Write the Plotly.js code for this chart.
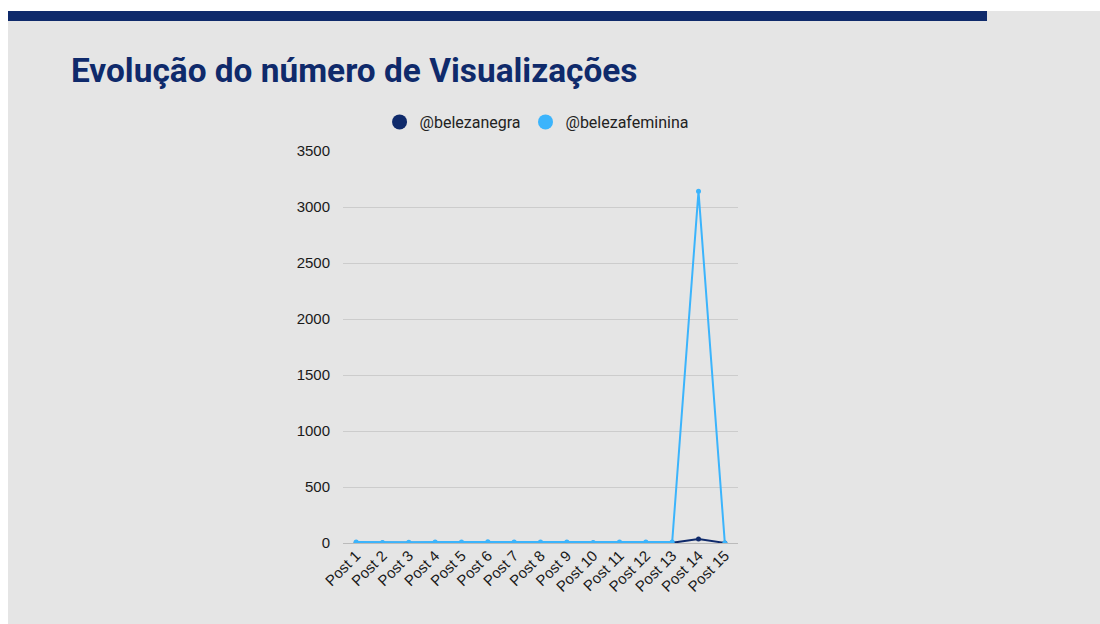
<!DOCTYPE html>
<html>
<head>
<meta charset="utf-8">
<script src="https://cdn.plot.ly/plotly-3.0.1.min.js"></script>
<style>
html,body{margin:0;padding:0;background:#ffffff;}
#chart{width:1100px;height:624px;}
</style>
</head>
<body>
<div id="chart"></div>
<script>
const categories = ["Post 1","Post 2","Post 3","Post 4","Post 5","Post 6","Post 7","Post 8","Post 9","Post 10","Post 11","Post 12","Post 13","Post 14","Post 15"];
const belezanegra = [2,1,1,2,2,3,2,2,2,1,2,2,2,35,1];
const belezafeminina = [10,5,6,10,8,12,9,8,8,5,8,9,8,3140,0];
const seriesNames = ["@belezanegra","@belezafeminina"];
const yTicks = [0,500,1000,1500,2000,2500,3000,3500];

const navy = "#0f2a6b";
const blue = "#3bb4fc";
const tickFont = "Liberation Sans, Arial, sans-serif";

const data = [
  {x: categories, y: belezanegra, name: seriesNames[0], type: "scatter", mode: "lines+markers",
   line: {color: navy, width: 2}, marker: {color: navy, size: 5}, showlegend: false},
  {x: categories, y: belezafeminina, name: seriesNames[1], type: "scatter", mode: "lines+markers",
   line: {color: blue, width: 2}, marker: {color: blue, size: 5}, showlegend: false},
  {x: [null], y: [null], name: seriesNames[0], type: "scatter", mode: "markers",
   marker: {color: navy, size: 15}, showlegend: true},
  {x: [null], y: [null], name: seriesNames[1], type: "scatter", mode: "markers",
   marker: {color: blue, size: 15}, showlegend: true}
];

const layout = {
  width: 1100, height: 624,
  margin: {l: 343, r: 362, t: 151, b: 81, pad: 0},
  paper_bgcolor: "#ffffff",
  plot_bgcolor: "rgba(0,0,0,0)",
  font: {family: "Roboto, sans-serif", size: 14, color: "#222222"},
  title: {
    text: "<b>Evolução do número de Visualizações</b>",
    font: {family: "Roboto, sans-serif", size: 33.4, color: navy},
    xref: "container", x: 71/1100, xanchor: "left",
    yref: "container", y: 1 - 59/624, yanchor: "top"
  },
  shapes: [
    {type: "rect", xref: "paper", yref: "paper", layer: "below",
     x0: -0.8481, x1: 2.0, y0: -0.3, y1: 1.3571,
     fillcolor: "#e5e5e5", line: {width: 0}},
    {type: "rect", xref: "paper", yref: "paper", layer: "below",
     x0: -0.8481, x1: 1.6304, y0: 1.3316, y1: 1.3571,
     fillcolor: navy, line: {width: 0}}
  ],
  legend: {
    orientation: "h", x: 0.49, xanchor: "center", y: 1.074, yanchor: "middle",
    bgcolor: "rgba(0,0,0,0)", font: {size: 16, color: "#222222"},
    itemclick: false
  },
  xaxis: {
    type: "category", range: [-0.5, 14.5], tickangle: -45,
    showgrid: false, zeroline: false, showline: false, ticks: "",
    tickfont: {family: tickFont, size: 15, color: "#1a1a1a"}, fixedrange: true
  },
  yaxis: {
    range: [0, 3500], tickvals: yTicks, ticktext: yTicks.map(String),
    showgrid: true, gridcolor: "#cccccc", gridwidth: 1,
    zeroline: true, zerolinecolor: "#bbbbbb", zerolinewidth: 1,
    showline: false, ticks: "", ticklabelstandoff: 12,
    tickfont: {family: tickFont, size: 15, color: "#1a1a1a"}, fixedrange: true
  }
};

Plotly.newPlot("chart", data, layout, {displayModeBar: false, staticPlot: true});
</script>
</body>
</html>
